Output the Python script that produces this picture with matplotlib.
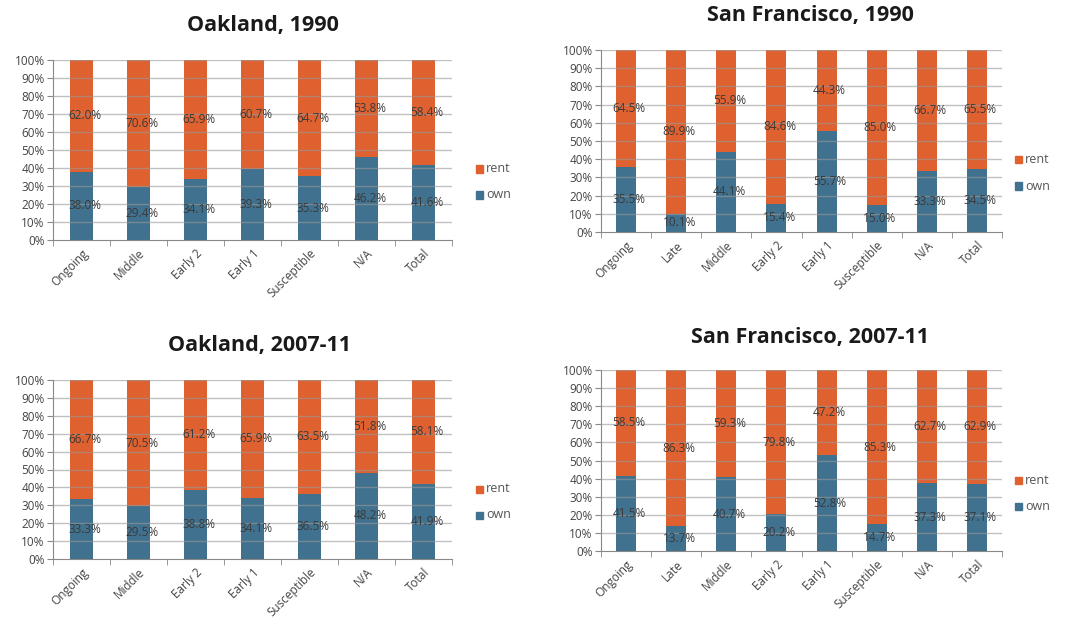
import matplotlib
matplotlib.use("Agg")
import matplotlib.pyplot as plt
import numpy as np

plt.rcParams['font.family'] = ['Open Sans', 'DejaVu Sans']

# data
oak_cats = ["Ongoing", "Middle", "Early 2", "Early 1", "Susceptible", "N/A", "Total"]
sf_cats = ["Ongoing", "Late", "Middle", "Early 2", "Early 1", "Susceptible", "N/A", "Total"]

oak90_own = [38.0, 29.4, 34.1, 39.3, 35.3, 46.2, 41.6]
oak90_rent = [62.0, 70.6, 65.9, 60.7, 64.7, 53.8, 58.4]
sf90_own = [35.5, 10.1, 44.1, 15.4, 55.7, 15.0, 33.3, 34.5]
sf90_rent = [64.5, 89.9, 55.9, 84.6, 44.3, 85.0, 66.7, 65.5]
oak07_own = [33.3, 29.5, 38.8, 34.1, 36.5, 48.2, 41.9]
oak07_rent = [66.7, 70.5, 61.2, 65.9, 63.5, 51.8, 58.1]
sf07_own = [41.5, 13.7, 40.7, 20.2, 52.8, 14.7, 37.3, 37.1]
sf07_rent = [58.5, 86.3, 59.3, 79.8, 47.2, 85.3, 62.7, 62.9]

RENT = "#DF6130"
OWN = "#40718E"
W, H = 1078, 628

fig = plt.figure(figsize=(W / 100, H / 100), dpi=100)
fig.patch.set_facecolor("white")


def px_axes(x0, y0, x1, y1):
    return fig.add_axes([x0 / W, 1 - y1 / H, (x1 - x0) / W, (y1 - y0) / H])


def panel(rect, title, title_xy, cats, own, rent, legend_xy):
    ax = px_axes(*rect)
    x = np.arange(len(cats))
    own = np.array(own)
    rent = np.array(rent)
    ax.bar(x, own, width=0.4, color=OWN, zorder=2)
    ax.bar(x, rent, width=0.4, bottom=own, color=RENT, zorder=2)
    for xi, o, r in zip(x, own, rent):
        ax.text(xi + 0.06, o / 2, f"{o:.1f}%", ha="center", va="center",
                fontsize=8.5, color="#3a3a3a", zorder=4)
        ax.text(xi + 0.06, o + r / 2, f"{r:.1f}%", ha="center", va="center",
                fontsize=8.5, color="#3a3a3a", zorder=4)
    ax.set_xlim(-0.5, len(cats) - 0.5)
    ax.set_ylim(0, 100)
    ax.set_yticks(np.arange(0, 101, 10))
    ax.set_yticklabels([f"{v}%" for v in range(0, 101, 10)], fontsize=8.5, color="#444444")
    for v in range(10, 101, 10):
        ax.axhline(v, color="#999999", lw=1.0, zorder=3, alpha=0.6)
    ax.set_xticks(x)
    ax.set_xticklabels(cats, rotation=45, ha="right", rotation_mode="anchor",
                       fontsize=8.5, color="#444444")
    ax.tick_params(axis="x", length=0, pad=5)
    ax.set_xticks(np.arange(-0.5, len(cats), 1), minor=True)
    ax.tick_params(axis="x", which="minor", length=4, color="#888888")
    ax.tick_params(axis="y", length=4, color="#888888", pad=2)
    for s in ["top", "right"]:
        ax.spines[s].set_visible(False)
    for s in ["left", "bottom"]:
        ax.spines[s].set_color("#888888")
    fig.text(title_xy[0] / W, 1 - title_xy[1] / H, title, ha="center", va="center",
             fontsize=15.5, fontweight="bold", color="#1a1a1a")
    lx, ly = legend_xy
    for i, (lab, col) in enumerate([("rent", RENT), ("own", OWN)]):
        yy = 1 - (ly + i * 26) / H
        fig.patches.append(plt.Rectangle((lx / W, yy - 3.5 / H), 7 / W, 7 / H,
                                         transform=fig.transFigure, color=col))
        fig.text((lx + 10) / W, yy, lab, ha="left", va="center", fontsize=9, color="#555555")
    return ax


panel((53, 60, 452, 240), "Oakland, 1990", (263, 25), oak_cats, oak90_own, oak90_rent, (476, 169))
panel((601, 50, 1002, 232), "San Francisco, 1990", (810, 15), sf_cats, sf90_own, sf90_rent, (1015, 160))
panel((53, 380, 452, 559), "Oakland, 2007-11", (260, 345), oak_cats, oak07_own, oak07_rent, (476, 489))
panel((601, 370, 1002, 551), "San Francisco, 2007-11", (810, 337), sf_cats, sf07_own, sf07_rent, (1015, 480))

fig.savefig("out.png", dpi=100, facecolor="white")
